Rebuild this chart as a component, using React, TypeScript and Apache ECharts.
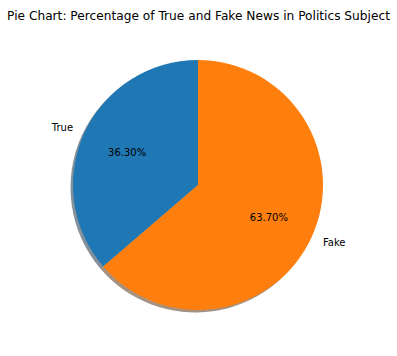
import React, { useEffect, useRef } from "react";
import * as echarts from "echarts";

const categories = ["True", "Fake"];
const percentages = [36.3, 63.7];
const colors = ["#1f77b4", "#ff7f0e"];
const shadowColors = ["rgba(9,36,54,0.5)", "rgba(77,38,4,0.5)"];
const titleText = "Pie Chart: Percentage of True and Fake News in Politics Subject";

const FONT = "DejaVu Sans";
const R = 125;
const CX = 198;
const CY = 185;

export default function App() {
  const ref = useRef<HTMLDivElement>(null);
  useEffect(() => {
    if (!ref.current) return;
    const chart = echarts.init(ref.current, undefined, { renderer: "svg" });
    const base = {
      type: "pie",
      startAngle: 90,
      clockwise: false,
      animation: false,
      avoidLabelOverlap: false,
      percentPrecision: 2,
    };
    chart.setOption({
      animation: false,
      backgroundColor: "#ffffff",
      title: {
        text: titleText,
        left: "center",
        top: 5,
        textStyle: { fontFamily: FONT, fontSize: 12.2, fontWeight: "normal", color: "#000" },
      },
      series: [
        {
          ...base,
          silent: true,
          z: 1,
          center: [CX - 2.5, CY + 2.5],
          radius: [0, R],
          label: { show: false },
          labelLine: { show: false },
          data: categories.map((c, i) => ({
            name: c,
            value: percentages[i],
            itemStyle: { color: shadowColors[i] },
          })),
        },
        {
          ...base,
          silent: true,
          z: 2,
          center: [CX, CY],
          radius: [0, R],
          label: {
            show: true,
            position: "outside",
            fontFamily: FONT,
            fontSize: 10,
            color: "#000",
            formatter: "{b}",
          },
          labelLine: { show: false, length: R * 0.1, length2: -5 },
          itemStyle: { borderWidth: 0 },
          data: categories.map((c, i) => ({
            name: c,
            value: percentages[i],
            itemStyle: { color: colors[i] },
          })),
        },
        {
          ...base,
          silent: true,
          z: 3,
          center: [CX, CY],
          radius: [R * 0.2, R],
          label: {
            show: true,
            position: "inside",
            fontFamily: FONT,
            fontSize: 10,
            color: "#000",
            formatter: (p: any) => p.percent.toFixed(2) + "%",
          },
          labelLine: { show: false },
          itemStyle: { color: "rgba(0,0,0,0)", borderWidth: 0 },
          data: categories.map((c, i) => ({ name: c, value: percentages[i] })),
        },
      ],
    });
    return () => chart.dispose();
  }, []);
  return (
    <div
      ref={ref}
      style={{ position: "fixed", left: 0, top: 0, width: 397, height: 356, background: "#fff" }}
    />
  );
}
